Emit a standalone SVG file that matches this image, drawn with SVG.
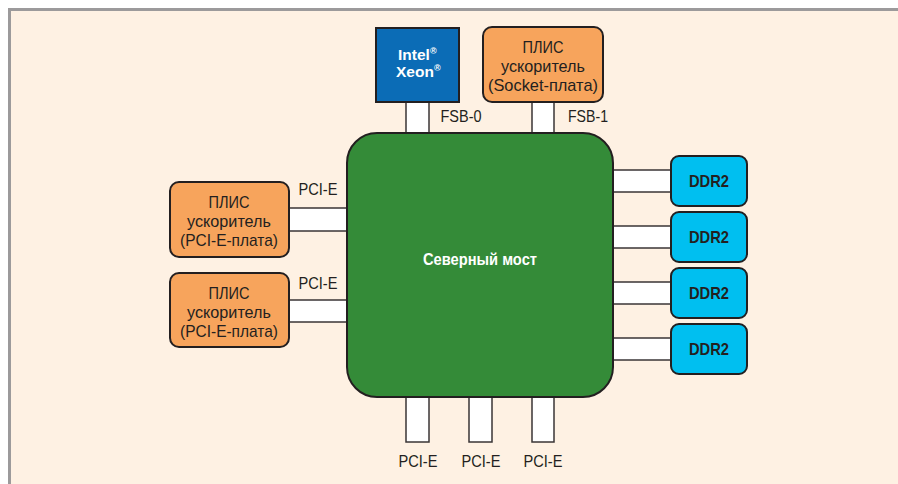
<svg xmlns="http://www.w3.org/2000/svg" width="898" height="484" viewBox="0 0 898 484">
<defs>
<style>
.t{font-family:"Liberation Sans",Arial,sans-serif;font-size:17px;fill:#231f20;text-anchor:middle}
.b{font-weight:bold}
.w{fill:#ffffff}
.x{font-size:15.5px;text-anchor:start}
.r{font-size:9px}
.lnk{fill:#ffffff;stroke:#3a3536;stroke-width:1.5}
.org{fill:#f7a45c;stroke:#231f20;stroke-width:2}
.ddr{fill:#00bff0;stroke:#231f20;stroke-width:2}
</style>
</defs>
<rect x="0" y="0" width="898" height="484" fill="#ffffff"/>
<rect x="9.5" y="9.5" width="900" height="490" fill="#fef1e3" stroke="#9c9a9b" stroke-width="3"/>
<g id="connectors">
<rect class="lnk" x="406" y="102" width="23" height="32"/>
<rect class="lnk" x="532" y="102" width="22" height="32"/>
<rect class="lnk" x="289" y="208" width="60" height="23"/>
<rect class="lnk" x="289" y="300" width="60" height="22"/>
<rect class="lnk" x="612" y="170" width="59" height="22"/>
<rect class="lnk" x="612" y="226" width="59" height="22"/>
<rect class="lnk" x="612" y="282" width="59" height="22"/>
<rect class="lnk" x="612" y="338" width="59" height="22"/>
<rect class="lnk" x="406" y="396" width="23" height="46"/>
<rect class="lnk" x="469" y="396" width="23" height="46"/>
<rect class="lnk" x="532" y="396" width="22" height="46"/>
<text class="t" x="461" y="122" textLength="41" lengthAdjust="spacingAndGlyphs">FSB-0</text>
<text class="t" x="588" y="122" textLength="40" lengthAdjust="spacingAndGlyphs">FSB-1</text>
<text class="t" x="318" y="195" textLength="39" lengthAdjust="spacingAndGlyphs">PCI-E</text>
<text class="t" x="318" y="289" textLength="39" lengthAdjust="spacingAndGlyphs">PCI-E</text>
<text class="t" x="418" y="467" textLength="39" lengthAdjust="spacingAndGlyphs">PCI-E</text>
<text class="t" x="481" y="467" textLength="39" lengthAdjust="spacingAndGlyphs">PCI-E</text>
<text class="t" x="543" y="467" textLength="39" lengthAdjust="spacingAndGlyphs">PCI-E</text>
</g>
<g id="northbridge">
<rect x="347" y="133" width="266" height="264" rx="30" fill="#348b38" stroke="#231f20" stroke-width="2"/>
<text class="t b w" x="480" y="265" textLength="114" lengthAdjust="spacingAndGlyphs">Северный мост</text>
</g>
<g id="xeon">
<rect x="376" y="28" width="83" height="74" fill="#0b6cb6" stroke="#231f20" stroke-width="2"/>
<text class="t b w x" x="398" y="60">Intel<tspan class="r" dy="-6">®</tspan></text>
<text class="t b w x" x="396" y="77">Xeon<tspan class="r" dy="-6">®</tspan></text>
</g>
<g id="fpga-socket">
<rect class="org" x="483" y="27" width="120" height="75" rx="9"/>
<text class="t" x="543" y="53" textLength="41" lengthAdjust="spacingAndGlyphs">ПЛИС</text>
<text class="t" x="543" y="72" textLength="84" lengthAdjust="spacingAndGlyphs">ускоритель</text>
<text class="t" x="543" y="91" textLength="110" lengthAdjust="spacingAndGlyphs">(Socket-плата)</text>
</g>
<g id="fpga-pcie-1">
<rect class="org" x="170" y="182" width="119" height="75" rx="9"/>
<text class="t" x="229" y="208" textLength="41" lengthAdjust="spacingAndGlyphs">ПЛИС</text>
<text class="t" x="229" y="227" textLength="84" lengthAdjust="spacingAndGlyphs">ускоритель</text>
<text class="t" x="229" y="246" textLength="98" lengthAdjust="spacingAndGlyphs">(PCI-E-плата)</text>
</g>
<g id="fpga-pcie-2">
<rect class="org" x="170" y="273" width="119" height="74" rx="9"/>
<text class="t" x="229" y="299" textLength="41" lengthAdjust="spacingAndGlyphs">ПЛИС</text>
<text class="t" x="229" y="318" textLength="84" lengthAdjust="spacingAndGlyphs">ускоритель</text>
<text class="t" x="229" y="337" textLength="98" lengthAdjust="spacingAndGlyphs">(PCI-E-плата)</text>
</g>
<g id="ddr2-1">
<rect class="ddr" x="671" y="156" width="76" height="50" rx="8"/>
<text class="t b" x="709" y="187" textLength="40" lengthAdjust="spacingAndGlyphs">DDR2</text>
</g>
<g id="ddr2-2">
<rect class="ddr" x="671" y="212" width="76" height="50" rx="8"/>
<text class="t b" x="709" y="243" textLength="40" lengthAdjust="spacingAndGlyphs">DDR2</text>
</g>
<g id="ddr2-3">
<rect class="ddr" x="671" y="268" width="76" height="50" rx="8"/>
<text class="t b" x="709" y="299" textLength="40" lengthAdjust="spacingAndGlyphs">DDR2</text>
</g>
<g id="ddr2-4">
<rect class="ddr" x="671" y="324" width="76" height="50" rx="8"/>
<text class="t b" x="709" y="355" textLength="40" lengthAdjust="spacingAndGlyphs">DDR2</text>
</g>
</svg>
